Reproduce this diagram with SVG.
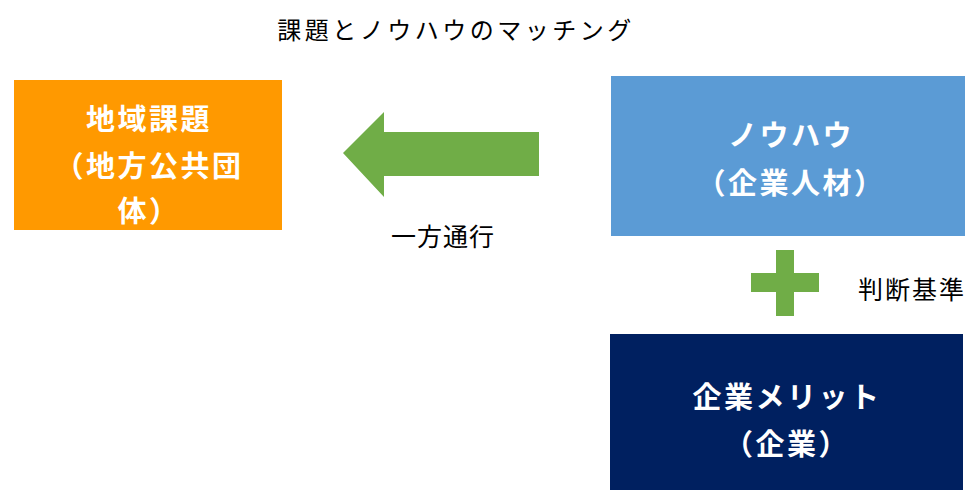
<svg xmlns="http://www.w3.org/2000/svg" width="965" height="490" viewBox="0 0 965 490">
<style>
.t{font-family:"Noto Sans CJK JP","Noto Sans CJK SC",sans-serif;}
.w{fill:#ffffff;font-weight:bold;font-size:29px;letter-spacing:2.5px;text-anchor:middle;}
.k{fill:#000000;font-size:24px;text-anchor:middle;}
.g{fill:#70AD47;}
</style>
<rect width="965" height="490" fill="#ffffff"/>
<text class="t k" x="456" y="39" style="letter-spacing:3.5px">課題とノウハウのマッチング</text>
<g id="chiiki">
<rect x="14" y="80" width="268" height="150" fill="#FF9900"/>
<text class="t w" x="149" y="130">地域課題</text>
<text class="t w" x="149" y="177">（地方公共団</text>
<text class="t w" x="149" y="222">体）</text>
</g>
<g id="knowhow">
<rect x="611" y="76" width="354" height="160" fill="#5B9BD5"/>
<text class="t w" x="791" y="146">ノウハウ</text>
<text class="t w" x="791" y="194">（企業人材）</text>
</g>
<g id="merit">
<rect x="610" y="334" width="353" height="156" fill="#002060"/>
<text class="t w" x="787" y="408">企業メリット</text>
<text class="t w" x="787" y="455">（企業）</text>
</g>
<g id="connectors">
<polygon class="g" points="343,153 384,112 384,132 539,132 539,176 384,176 384,197"/>
<text class="t k" x="443" y="246" style="font-size:25px;letter-spacing:1px">一方通行</text>
<rect class="g" x="776" y="250" width="18" height="66"/>
<rect class="g" x="751" y="273" width="68" height="19"/>
<text class="t k" x="912" y="299" style="font-size:25px;letter-spacing:2px">判断基準</text>
</g>
</svg>
